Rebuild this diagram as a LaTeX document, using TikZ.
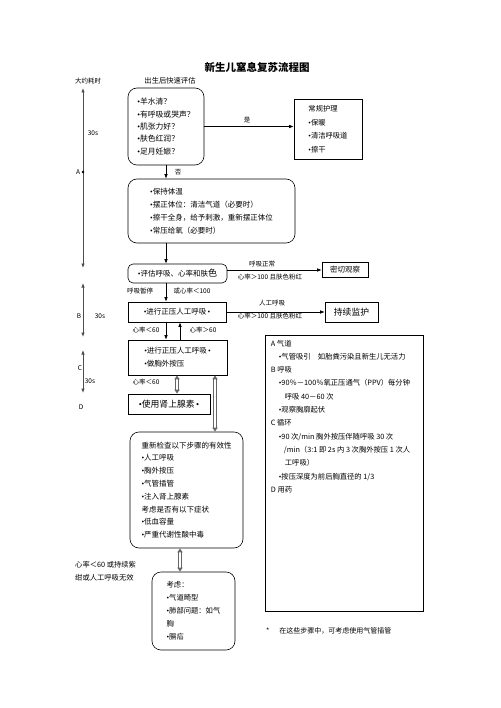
\documentclass[tikz,border=0pt]{standalone}
\usepackage{fontspec}
\setmainfont{Noto Sans CJK SC}
\newfontfamily\bulfont{Liberation Serif}
\newcommand\bul{{\bulfont •}}
\usetikzlibrary{arrows.meta}
\tikzset{
  rbx/.style={draw, rounded corners=9pt, line width=0.6pt, align=left, inner sep=3pt},
  sbx/.style={draw, line width=0.6pt, align=left, inner sep=3pt},
  lab/.style={font=\fontsize{6.5}{8}\selectfont, inner sep=0pt},
  ln/.style={arrows={-Latex[length=4.5pt,width=3.5pt]}, line width=0.6pt},
  ax/.style={arrows={Latex[length=4.5pt,width=3.5pt]-Latex[length=4.5pt,width=3.5pt]}, line width=0.7pt, draw=black!70},
  hol/.style={draw=black!60, double=white, double distance=2pt, line width=0.9pt, arrows={Latex[length=4pt,width=6pt]-Latex[length=4pt,width=6pt]}},
}
\begin{document}
\begin{tikzpicture}[x=1pt,y=-1pt, every node/.append style={font=\fontsize{7.5}{12.5}\selectfont}]
\useasboundingbox (0,0) rectangle (500,708);
\node[font=\fontsize{10.5}{12}\selectfont\bfseries] (title) at (257,67) {新生儿窒息复苏流程图};
\node[lab] (time) at (88,81) {大约耗时};
\node[lab, font=\fontsize{7.3}{9}\selectfont] (quick) at (170,81) {出生后快速评估};
\coordinate (col1) at (166,0);
\coordinate (col2) at (180,0);
\coordinate (col3) at (177,0);
\coordinate (col4) at (215,0);
\coordinate (col5) at (180,0);
\node[rbx, minimum width=76pt, minimum height=77pt, font=\fontsize{7.8}{12.3}\selectfont] (b1) at (166,126.5) {\bul 羊水清？\\\bul 有呼吸或哭声？\\\bul 肌张力好？\\\bul 肤色红润？\\\bul 足月妊娠？};
\node[sbx, minimum width=68pt, minimum height=60pt, font=\fontsize{7.3}{13.5}\selectfont] (b2) at (328,129) {常规护理\\\bul 保暖\\\bul 清洁呼吸道\\\bul 擦干};
\node[rbx, minimum width=167pt, minimum height=64pt, font=\fontsize{7.5}{13}\selectfont] (b3) at (211.5,211) {\bul 保持体温\\\bul 摆正体位：清洁气道（必要时）\\\bul 擦干全身，给予刺激，重新摆正体位\\\bul 常压给氧（必要时）};
\node[rbx, rounded corners=5pt, minimum width=99pt, minimum height=19pt] (b4) at (177.5,273.5) {\bul 评估呼吸、心率和肤{\fontsize{9}{9}\selectfont 色}};
\node[sbx, minimum width=46pt, minimum height=15pt] (obs) at (345,270) {密切观察};
\node[sbx, minimum width=98pt, minimum height=20pt] (b5) at (177,312) {\bul 进行正压人工呼吸\,\bul};
\node[sbx, minimum width=53pt, minimum height=20pt, font=\fontsize{8.8}{10}\selectfont] (mon) at (351.5,312) {持续监护};
\node[sbx, minimum width=99pt, minimum height=35pt, font=\fontsize{7.5}{13}\selectfont] (b6) at (177.5,357.5) {\bul 进行正压人工呼吸\,\bul\\\bul 做胸外按压};
\node[sbx, minimum width=82pt, minimum height=20pt, font=\fontsize{8.8}{10}\selectfont] (b7) at (169,404) {\bul 使用肾上腺素\,\bul};
\node[rbx, minimum width=113pt, minimum height=116pt, font=\fontsize{7.5}{12.8}\selectfont] (b8) at (186.5,490) {重新检查以下步骤的有效性\\\bul 人工呼吸\\\bul 胸外按压\\\bul 气管插管\\\bul 注入肾上腺素\\考虑是否有以下症状\\\bul 低血容量\\\bul 严重代谢性酸中毒};
\node[rbx, minimum width=83pt, minimum height=78pt, font=\fontsize{7.3}{13}\selectfont] (b9) at (193.5,611) {考虑：\\\bul 气道畸型\\\bul 肺部问题：如气\\胸\\\bul 膈疝};
\node[sbx, minimum width=158pt, minimum height=276pt] (rb) at (344,473) {};
\node[anchor=north west, align=left, inner sep=0pt, font=\fontsize{7.3}{13.3}\selectfont] (rbtext) at ([xshift=6pt,yshift=-5pt]rb.north west) {A 气道\\
\hspace*{8pt}\bul 气管吸引\quad 如胎粪污染且新生儿无活力\\
B 呼吸\\
\hspace*{8pt}\bul 90％－100％氧正压通气（PPV）每分钟\\
\hspace*{14pt}呼吸 40－60 次\\
\hspace*{8pt}\bul 观察胸廓起伏\\
C 循环\\
\hspace*{8pt}\bul 90 次/min 胸外按压伴随呼吸 30 次\\
\hspace*{13pt}/min（3:1 即 2s 内 3 次胸外按压 1 次人\\
\hspace*{14pt}工呼吸）\\
\hspace*{8pt}\bul 按压深度为前后胸直径的 1/3\\
D 用药};
\node[anchor=west, inner sep=0pt, font=\fontsize{7}{8}\selectfont] (note) at (266,631) {*\hspace{10pt}在这些步骤中，可考虑使用气管插管};
\node[anchor=west, align=left, inner sep=0pt, font=\fontsize{7.3}{13}\selectfont] (fail) at (75,571.5) {心率＜60 或持续紫\\绀或人工呼吸无效};
\draw[ln] (b1.east) -- (b1.east -| b2.west);
\node[lab] (yes) at (247,120) {是};
\draw[ln] (col1 |- b1.south) -- (col1 |- b3.north);
\node[lab] (no) at (178,172) {否};
\draw[ln] (col1 |- b3.south) -- (col1 |- b4.north);
\draw[ln] (b4.east |- obs) -- (obs.west);
\node[lab] (brok) at (262,264) {呼吸正常};
\node[lab] (hr1) at (270,277) {心率＞100 且肤色粉红};
\node[lab] (apnea) at (140,291) {呼吸暂停};
\node[lab] (hr2) at (192,291) {或心率＜100};
\draw[ln] (col1 |- b4.south) -- (col1 |- b5.north);
\draw[ln] (b5.east |- mon) -- (mon.west);
\node[lab] (ppv) at (272,303) {人工呼吸};
\node[lab] (hr3) at (270,316) {心率＞100 且肤色粉红};
\node[lab] (hr4) at (146,330) {心率＜60};
\node[lab] (hr5) at (203,330) {心率＞60};
\draw[ln] (col1 |- b5.south) -- (col1 |- b6.north);
\draw[ln] (col2 |- b6.north) -- (col2 |- b5.south);
\node[lab] (hr6) at (146,382) {心率＜60};
\draw[hol] (col3 |- b6.south) -- (col3 |- b7.north);
\draw[hol] (col4 |- b6.south) -- (col4 |- b8.north);
\draw[hol] (col5 |- b8.south) -- (col5 |- b9.north);
\coordinate (a0) at (83,88);
\coordinate (a1) at (83,268);
\coordinate (bb0) at (83,283);
\coordinate (bb1) at (83,337);
\coordinate (c0) at (83,350);
\coordinate (c1) at (83,393);
\draw[ax] (a0) -- (a1);
\draw[ax] (bb0) -- (bb1);
\draw[ax] (c0) -- (c1);
\node[lab] (ta) at (93,133) {30s};
\node[lab] (la) at (78,172) {A};
\node[circle, fill, inner sep=0.9pt] (adot) at (83,172) {};
\node[lab] (lb) at (79,316) {B};
\node[lab] (tb) at (100,316) {30s};
\node[lab] (lc) at (80,368) {C};
\node[lab] (tc) at (90,381) {30s};
\node[lab] (ld) at (81,407) {D};
\end{tikzpicture}
\end{document}
